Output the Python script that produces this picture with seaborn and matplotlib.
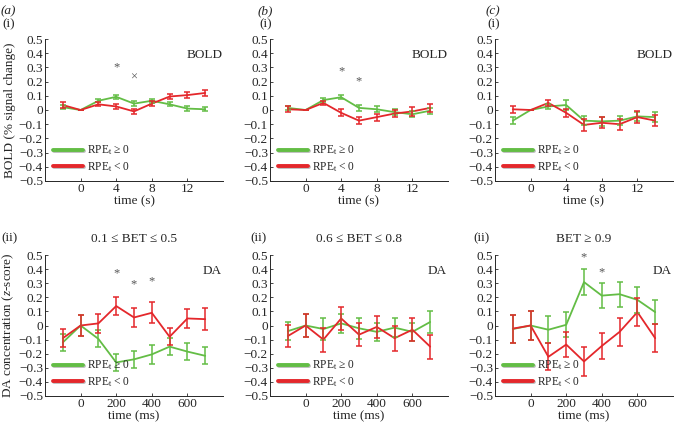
import numpy as np
import pandas as pd
import matplotlib
matplotlib.use("Agg")
import matplotlib.pyplot as plt
import matplotlib.patheffects as pe
from matplotlib.lines import Line2D
import seaborn as sns

sns.set_style("ticks")
plt.rcParams['font.family'] = ['Liberation Serif', 'DejaVu Serif']
plt.rcParams['mathtext.fontset'] = 'custom'
plt.rcParams['mathtext.rm'] = 'Liberation Serif'
plt.rcParams['mathtext.it'] = 'Liberation Serif:italic'

GREEN = '#63bd45'
RED = '#e4272b'

# ---------------- data ----------------
t_bold = [-2, 0, 2, 4, 6, 8, 10, 12, 14]
t_da = [-100, 0, 100, 200, 300, 400, 500, 600, 700]

# (a)(i)
a1_pos = [0.02, 0.0, 0.065, 0.093, 0.045, 0.065, 0.04, 0.01, 0.005]
a1_pos_err = [0.015, 0.0, 0.012, 0.015, 0.015, 0.015, 0.015, 0.015, 0.015]
a1_neg = [0.035, 0.0, 0.04, 0.025, -0.01, 0.045, 0.095, 0.105, 0.12]
a1_neg_err = [0.02, 0.0, 0.015, 0.02, 0.02, 0.02, 0.02, 0.02, 0.022]
# (b)(i)
b1_pos = [0.015, 0.0, 0.07, 0.09, 0.015, 0.005, -0.015, -0.03, -0.005]
b1_pos_err = [0.015, 0.0, 0.012, 0.015, 0.02, 0.02, 0.02, 0.02, 0.02]
b1_neg = [0.005, 0.0, 0.05, -0.02, -0.075, -0.05, -0.025, -0.01, 0.015]
b1_neg_err = [0.02, 0.0, 0.015, 0.025, 0.025, 0.025, 0.025, 0.03, 0.03]
# (c)(i)
c1_pos = [-0.075, 0.0, 0.025, 0.035, -0.075, -0.08, -0.075, -0.045, -0.05]
c1_pos_err = [0.025, 0.0, 0.02, 0.035, 0.03, 0.03, 0.03, 0.03, 0.035]
c1_neg = [0.005, 0.0, 0.05, -0.02, -0.105, -0.09, -0.1, -0.05, -0.075]
c1_neg_err = [0.025, 0.0, 0.02, 0.03, 0.04, 0.04, 0.04, 0.04, 0.04]
# (a)(ii)
a2_pos = [-0.12, 0.0, -0.095, -0.262, -0.24, -0.205, -0.15, -0.185, -0.215]
a2_pos_err = [0.06, 0.075, 0.06, 0.06, 0.06, 0.065, 0.06, 0.06, 0.06]
a2_neg = [-0.09, 0.0, 0.015, 0.138, 0.057, 0.09, -0.08, 0.05, 0.045]
a2_neg_err = [0.065, 0.075, 0.065, 0.065, 0.07, 0.075, 0.06, 0.065, 0.077]
# (b)(ii)
b2_pos = [-0.04, 0.0, -0.025, 0.015, -0.02, -0.045, -0.015, -0.045, 0.025]
b2_pos_err = [0.065, 0.085, 0.075, 0.065, 0.075, 0.065, 0.07, 0.065, 0.075]
b2_neg = [-0.075, 0.0, -0.1, 0.05, -0.065, -0.01, -0.09, -0.03, -0.15]
b2_neg_err = [0.08, 0.085, 0.085, 0.08, 0.08, 0.08, 0.09, 0.08, 0.085]
# (c)(ii)
c2_pos = [-0.025, 0.0, -0.03, 0.005, 0.308, 0.212, 0.222, 0.182, 0.095]
c2_pos_err = [0.1, 0.1, 0.095, 0.09, 0.095, 0.09, 0.09, 0.09, 0.085]
c2_neg = [-0.022, 0.0, -0.222, -0.135, -0.255, -0.145, -0.045, 0.095, -0.09]
c2_neg_err = [0.1, 0.1, 0.095, 0.09, 0.1, 0.095, 0.1, 0.1, 0.1]

yticks = [0.5, 0.4, 0.3, 0.2, 0.1, 0, -0.1, -0.2, -0.3, -0.4, -0.5]
ytick_labels = ['0.5', '0.4', '0.3', '0.2', '0.1', '0',
                '\u22120.1', '\u22120.2', '\u22120.3', '\u22120.4', '\u22120.5']
legend_labels = ['RPE$_\\mathrm{t}$ \u2265 0', 'RPE$_\\mathrm{t}$ < 0']

panels = [
    # letter, row label, title, tag, t, pos, pos_err, neg, neg_err, stars
    ('(a)', '(i)', '', 'BOLD', t_bold, a1_pos, a1_pos_err, a1_neg, a1_neg_err,
     [(4, 0.3, '*'), (6, 0.23, '\u00d7')]),
    ('(b)', '(i)', '', 'BOLD', t_bold, b1_pos, b1_pos_err, b1_neg, b1_neg_err,
     [(4, 0.27, '*'), (6, 0.2, '*')]),
    ('(c)', '(i)', '', 'BOLD', t_bold, c1_pos, c1_pos_err, c1_neg, c1_neg_err, []),
    ('', '(ii)', '0.1 \u2264 BET \u2264 0.5', 'DA', t_da, a2_pos, a2_pos_err, a2_neg, a2_neg_err,
     [(200, 0.37, '*'), (300, 0.29, '*'), (400, 0.31, '*')]),
    ('', '(ii)', '0.6 \u2264 BET \u2264 0.8', 'DA', t_da, b2_pos, b2_pos_err, b2_neg, b2_neg_err, []),
    ('', '(ii)', 'BET \u2265 0.9', 'DA', t_da, c2_pos, c2_pos_err, c2_neg, c2_neg_err,
     [(300, 0.48, '*'), (400, 0.38, '*')]),
]

fig = plt.figure(figsize=(6.75, 4.26), dpi=100)
lefts = [45, 270, 495]
letter_x = [1, 258, 486]
ii_x = [1, 250, 473]
W, H = 675, 426
FS = 9.5

for i, (letter, row, title, tag, t, pos, pos_err, neg, neg_err, stars) in enumerate(panels):
    col, r = i % 3, i // 3
    top_px, bot_px = (39, 181) if r == 0 else (255, 396)
    ax = fig.add_axes([lefts[col] / W, 1 - bot_px / H, 178 / W, (bot_px - top_px) / H])

    df = pd.DataFrame({
        'time': list(t) * 2,
        'value': list(pos) + list(neg),
        'cond': ['pos'] * len(t) + ['neg'] * len(t),
    })
    sns.lineplot(data=df, x='time', y='value', hue='cond',
                 palette={'pos': GREEN, 'neg': RED}, ax=ax, legend=False,
                 linewidth=1.3)
    ax.errorbar(t, pos, yerr=pos_err, fmt='none', ecolor=GREEN, elinewidth=1.1,
                capsize=2, capthick=1.1)
    ax.errorbar(t, neg, yerr=neg_err, fmt='none', ecolor=RED, elinewidth=1.1,
                capsize=2, capthick=1.1)

    ax.set_ylim(-0.5, 0.5)
    ax.set_yticks(yticks)
    ax.set_yticklabels(ytick_labels)
    if r == 0:
        ax.set_xlim(-4, 16)
        ax.set_xticks([0, 4, 8, 12])
        ax.set_xlabel('time (s)', fontsize=FS, labelpad=0)
    else:
        ax.set_xlim(-200, 800)
        ax.set_xticks([0, 200, 400, 600])
        ax.set_xlabel('time (ms)', fontsize=FS, labelpad=0)
    ax.set_ylabel('')
    ax.tick_params(labelsize=FS, length=2, width=0.6, pad=1.5, direction='in')
    sns.despine(ax=ax)
    for s in ['left', 'bottom']:
        ax.spines[s].set_linewidth(0.7)

    ax.text(0.995, 0.885, tag, transform=ax.transAxes, ha='right', va='center', fontsize=FS)
    for sx, sy, s in stars:
        ax.text(sx, sy, s, ha='center', va='center', fontsize=9, color='#555555')

    handles = [
        Line2D([], [], color=c, lw=2.8,
               path_effects=[pe.SimpleLineShadow(offset=(0.5, -0.8), alpha=0.25), pe.Normal()])
        for c in (GREEN, RED)
    ]
    ax.legend(handles, legend_labels,
              loc='lower left', bbox_to_anchor=(0.02, 0.02), frameon=False, fontsize=8.3,
              handlelength=2.6, handletextpad=0.35, labelspacing=0.2, borderaxespad=0.0)

    if r == 0:
        fig.text(letter_x[col] / W, 1 - 11 / H, letter, fontsize=FS, style='italic',
                 ha='left', va='center')
        fig.text((letter_x[col] + 1) / W, 1 - 24 / H, row, fontsize=FS, ha='left', va='center')
    else:
        fig.text(ii_x[col] / W, 1 - 238 / H, row, fontsize=FS, ha='left', va='center')
        ax.set_title(title, fontsize=FS, pad=9)

    if i == 0:
        ax.set_ylabel('BOLD (% signal change)', fontsize=FS, labelpad=2)
    if i == 3:
        ax.set_ylabel('DA concentration ($z$-score)', fontsize=FS, labelpad=2)

fig.savefig('out.png', dpi=100)
